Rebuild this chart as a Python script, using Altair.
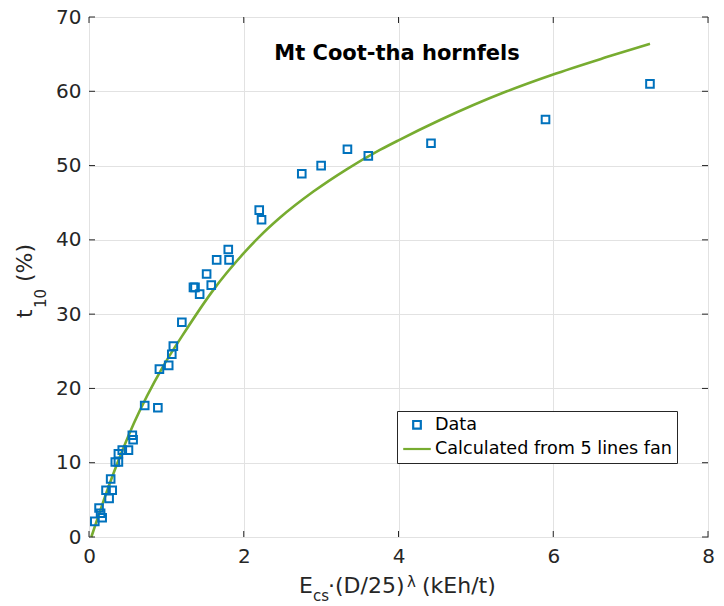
import altair as alt
import pandas as pd

# ---- data ----
data_x = [0.075, 0.13, 0.15, 0.17, 0.26, 0.22, 0.30, 0.28, 0.34, 0.38, 0.38, 0.43, 0.51,
          0.56, 0.57, 0.72, 0.89, 0.91, 1.03, 1.07, 1.09, 1.20, 1.35, 1.37, 1.43, 1.52,
          1.58, 1.65, 1.80, 1.81, 2.20, 2.23, 2.75, 3.00, 3.34, 3.61, 4.42, 5.90, 7.25]
data_y = [2.1, 3.9, 3.2, 2.6, 5.2, 6.3, 6.3, 7.8, 10.1, 10.1, 11.2, 11.7, 11.7,
          13.7, 13.1, 17.7, 17.4, 22.6, 23.1, 24.6, 25.7, 28.9, 33.6, 33.6, 32.7, 35.4,
          33.9, 37.3, 38.7, 37.3, 44.0, 42.7, 48.9, 50.0, 52.2, 51.3, 53.0, 56.2, 61.0]

curve_x = [0.03, 0.30, 0.58, 0.96, 1.25, 1.61, 2.00, 2.20, 2.47, 2.90, 3.33, 3.76, 4.00,
           4.53, 5.40, 5.98, 6.69, 7.25]
curve_y = [0.0, 8.1, 15.3, 23.0, 27.8, 33.3, 38.2, 40.4, 43.0, 46.5, 49.5, 52.1, 53.4,
           56.1, 60.0, 62.2, 64.6, 66.4]

series_names = ["Data", "Calculated from 5 lines fan"]
x_ticks = [0, 2, 4, 6, 8]
y_ticks = [0, 10, 20, 30, 40, 50, 60, 70]
chart_title = "Mt Coot-tha hornfels"
x_title_parts = ["E", "cs", "\u00b7(D/25)", "\u03bb", "(kEh/t)"]
y_title_parts = ["t", "10", "(%)"]

BLUE = "#0072BD"
GREEN = "#77AC30"
AX = "#262626"
FONT = "DejaVu Sans"
W, H = 619, 520

pts = pd.DataFrame({"x": data_x, "y": data_y, "series": series_names[0]})
crv = pd.DataFrame({"x": curve_x, "y": curve_y, "series": series_names[1]})
xt = pd.DataFrame({"v": x_ticks})
yt = pd.DataFrame({"v": y_ticks})

xs = alt.Scale(domain=[0, 8], nice=False, zero=False)
ys = alt.Scale(domain=[0, 70], nice=False, zero=False)
ax_x = alt.Axis(values=x_ticks, title=None, grid=True, domain=False, ticks=False,
                labelFont=FONT, labelFontSize=20, labelColor=AX, labelPadding=9,
                gridColor="#e2e2e2", labelFlush=False)
ax_y = alt.Axis(values=y_ticks, title=None, grid=True, domain=False, ticks=False,
                labelFont=FONT, labelFontSize=20, labelColor=AX, labelPadding=8,
                gridColor="#e2e2e2", labelFlush=False)

leg = alt.Legend(title=None, orient="none", legendX=308, legendY=394, direction="vertical",
                 strokeColor=AX, fillColor="white", padding=5, labelFont=FONT,
                 labelFontSize=17.6, labelColor="black", labelOffset=3, rowPadding=0,
                 symbolStrokeWidth=2.2, labelLimit=400)
col = alt.Color("series:N", scale=alt.Scale(domain=series_names, range=[BLUE, GREEN]), legend=leg)

X = lambda: alt.X("x:Q", scale=xs, axis=ax_x, title=None)
Y = lambda: alt.Y("y:Q", scale=ys, axis=ax_y, title=None)

points = alt.Chart(pts).mark_point(filled=False, strokeWidth=2, opacity=1).encode(
    x=X(), y=Y(), color=col,
    shape=alt.Shape("series:N", scale=alt.Scale(domain=series_names, range=["square", "stroke"]), legend=leg),
    size=alt.Size("series:N", scale=alt.Scale(domain=series_names, range=[58, 760]), legend=leg),
)
line = alt.Chart(crv).mark_line(strokeWidth=2.6, interpolate="monotone").encode(
    x=X(), y=Y(), color=col)

tick_x_b = alt.Chart(xt).mark_rule(color=AX, strokeWidth=1).encode(
    x=alt.X("v:Q", scale=xs, axis=ax_x, title=None), y=alt.value(H), y2=alt.value(H - 6))
tick_x_t = alt.Chart(xt).mark_rule(color=AX, strokeWidth=1).encode(
    x=alt.X("v:Q", scale=xs, axis=ax_x, title=None), y=alt.value(0), y2=alt.value(6))
tick_y_l = alt.Chart(yt).mark_rule(color=AX, strokeWidth=1).encode(
    y=alt.Y("v:Q", scale=ys, axis=ax_y, title=None), x=alt.value(0), x2=alt.value(6))
tick_y_r = alt.Chart(yt).mark_rule(color=AX, strokeWidth=1).encode(
    y=alt.Y("v:Q", scale=ys, axis=ax_y, title=None), x=alt.value(W), x2=alt.value(W - 6))

def label(txt, x, y, size, angle=0):
    return alt.Chart(pd.DataFrame({"t": [txt]})).mark_text(
        font=FONT, fontSize=size, align="left", baseline="alphabetic", angle=angle, color=AX,
    ).encode(text="t:N", x=alt.value(x), y=alt.value(y))

title_mark = alt.Chart(pd.DataFrame({"t": [chart_title]})).mark_text(
    font=FONT, fontSize=21, fontWeight="bold", align="center", baseline="alphabetic", color="black"
).encode(text="t:N", x=alt.value(308), y=alt.value(43))

xl = [label(x_title_parts[0], 210, 576, 22), label(x_title_parts[1], 224, 584, 15),
      label(x_title_parts[2], 239, 576, 22), label(x_title_parts[3], 318, 570, 15),
      label(x_title_parts[4], 333, 576, 22)]
yl = [label(y_title_parts[0], -57.5, 301, 22, angle=270),
      label(y_title_parts[1], -43, 291, 15, angle=270),
      label(y_title_parts[2], -57.5, 265, 22, angle=270)]

chart = alt.layer(line, points, tick_x_b, tick_x_t, tick_y_l, tick_y_r, title_mark, *xl, *yl).properties(
    width=W, height=H,
    autosize=alt.AutoSizeParams(type="none"),
    padding={"left": 89, "top": 17, "right": 16, "bottom": 69},
    background="white",
).configure_view(stroke=AX, strokeWidth=1)

chart.save("out.html", embed_options={"renderer": "svg", "actions": False})
